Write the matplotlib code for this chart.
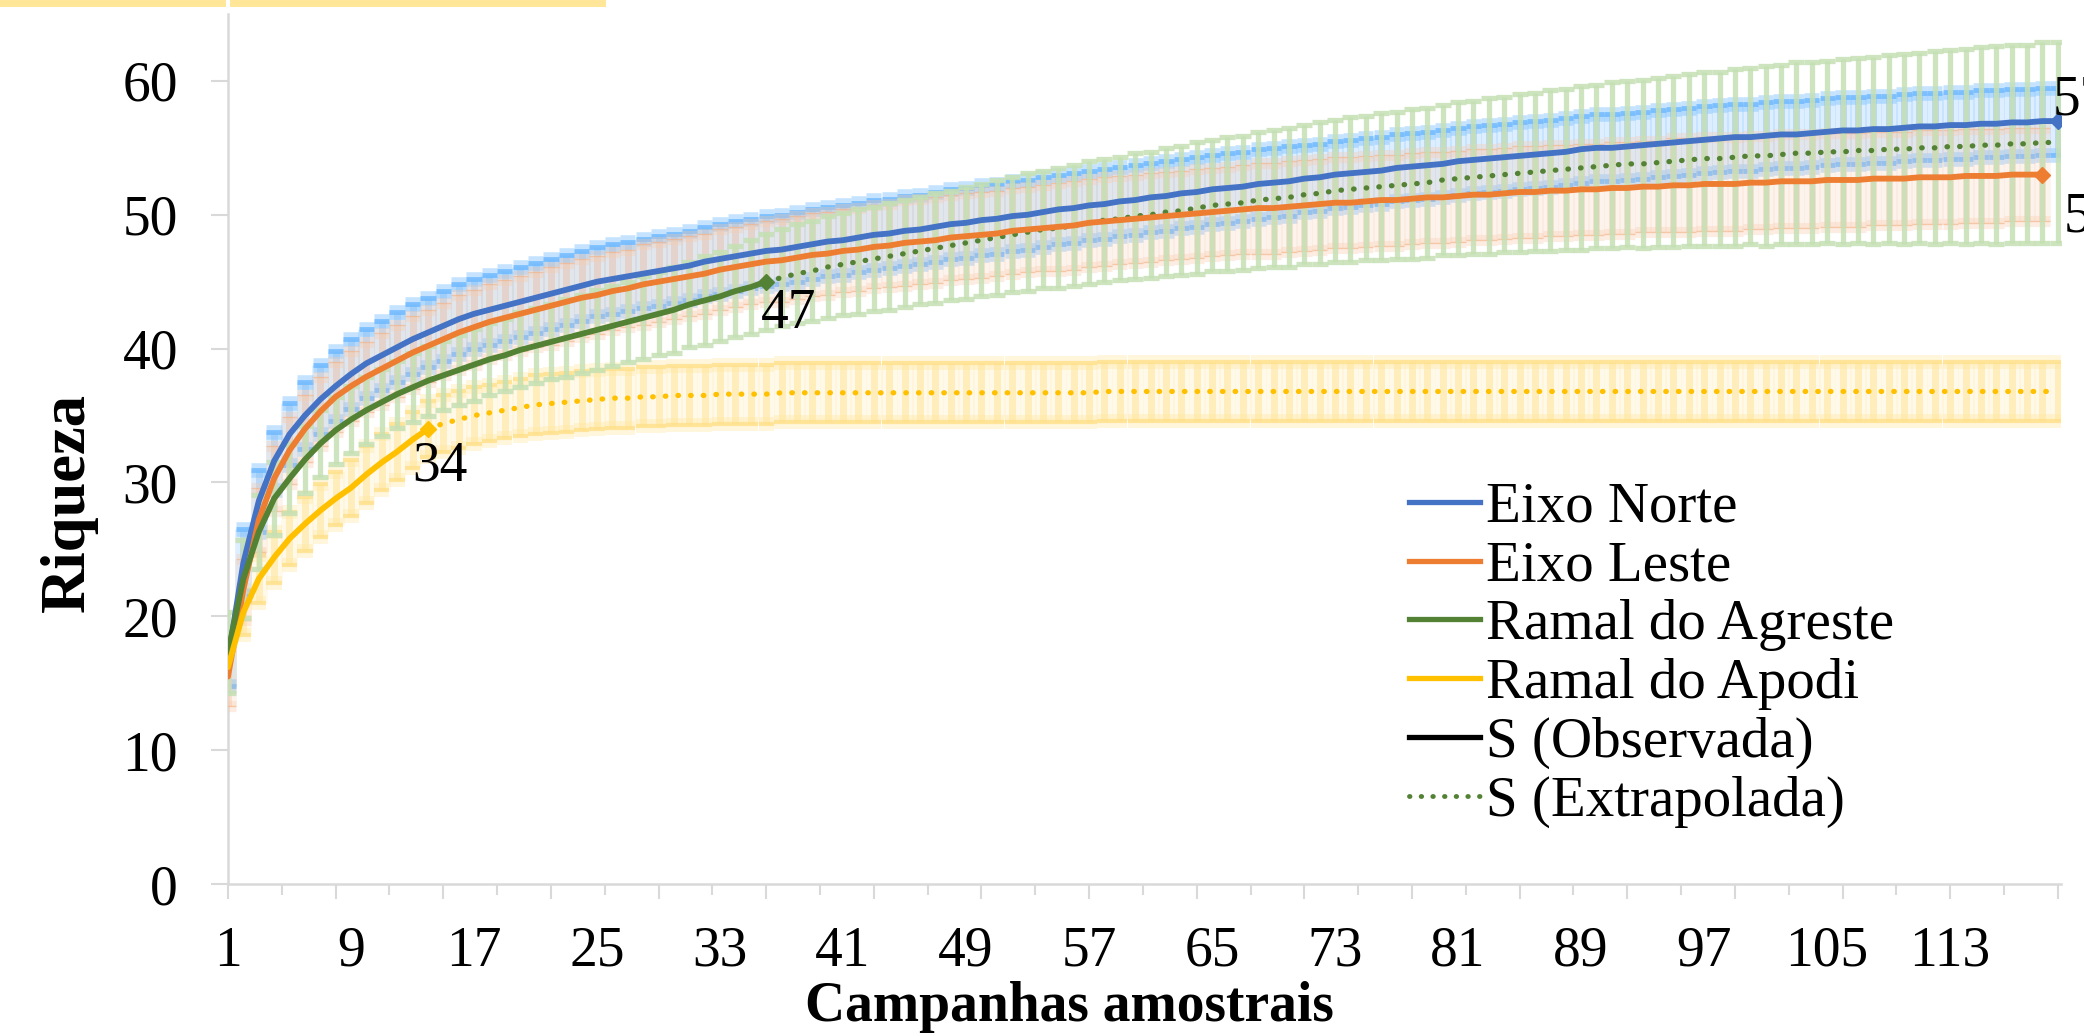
import matplotlib.pyplot as plt
import matplotlib.patheffects as pe
from matplotlib.lines import Line2D
from matplotlib.patches import Rectangle
import numpy as np

plt.rcParams['font.family'] = ['Liberation Serif', 'DejaVu Serif']

# x categories shown on the axis
x_tick_labels = [1, 9, 17, 25, 33, 41, 49, 57, 65, 73, 81, 89, 97, 105, 113]
y_ticks = [0, 10, 20, 30, 40, 50, 60]

# Eixo Norte, observed, campaigns 1..120
norte_obs = [16.8, 24.0, 28.6, 31.6, 33.6, 35.0, 36.2, 37.2, 38.1, 38.9,
             39.5, 40.1, 40.7, 41.2, 41.7, 42.2, 42.6, 42.9, 43.2, 43.5,
             43.8, 44.1, 44.4, 44.7, 45.0, 45.2, 45.4, 45.6, 45.8, 46.0,
             46.2, 46.5, 46.7, 46.9, 47.1, 47.3, 47.4, 47.6, 47.8, 48.0,
             48.1, 48.3, 48.5, 48.6, 48.8, 48.9, 49.1, 49.3, 49.4, 49.6,
             49.7, 49.9, 50.0, 50.2, 50.4, 50.5, 50.7, 50.8, 51.0, 51.1,
             51.3, 51.4, 51.6, 51.7, 51.9, 52.0, 52.1, 52.3, 52.4, 52.5,
             52.7, 52.8, 53.0, 53.1, 53.2, 53.3, 53.5, 53.6, 53.7, 53.8,
             54.0, 54.1, 54.2, 54.3, 54.4, 54.5, 54.6, 54.7, 54.9, 55.0,
             55.0, 55.1, 55.2, 55.3, 55.4, 55.5, 55.6, 55.7, 55.8, 55.8,
             55.9, 56.0, 56.0, 56.1, 56.2, 56.3, 56.3, 56.4, 56.4, 56.5,
             56.6, 56.6, 56.7, 56.7, 56.8, 56.8, 56.9, 56.9, 57.0, 57.0]
norte_err = [2.0, 2.5, 2.3, 2.2, 2.3, 2.5, 2.6, 2.6, 2.6, 2.6,
             2.6, 2.6, 2.6, 2.6, 2.6, 2.6, 2.6, 2.6, 2.6, 2.6,
             2.6, 2.6, 2.6, 2.6, 2.6, 2.6, 2.6, 2.6, 2.6, 2.6,
             2.6, 2.6, 2.6, 2.6, 2.6, 2.6, 2.6, 2.6, 2.6, 2.6,
             2.6, 2.6, 2.6, 2.6, 2.6, 2.6, 2.6, 2.6, 2.6, 2.6,
             2.6, 2.6, 2.6, 2.6, 2.6, 2.6, 2.6, 2.6, 2.6, 2.6,
             2.6, 2.6, 2.6, 2.6, 2.6, 2.6, 2.6, 2.6, 2.6, 2.6,
             2.5, 2.5, 2.5, 2.5, 2.5, 2.5, 2.5, 2.5, 2.5, 2.5,
             2.5, 2.5, 2.5, 2.5, 2.5, 2.5, 2.5, 2.5, 2.5, 2.5,
             2.5, 2.5, 2.5, 2.5, 2.5, 2.5, 2.5, 2.5, 2.5, 2.5,
             2.5, 2.5, 2.5, 2.5, 2.5, 2.5, 2.5, 2.5, 2.5, 2.5,
             2.5, 2.5, 2.5, 2.5, 2.5, 2.5, 2.5, 2.5, 2.5, 2.5]

# Eixo Leste, observed, campaigns 1..119
leste_obs = [15.5, 22.0, 27.2, 30.3, 32.4, 34.0, 35.3, 36.4, 37.2, 37.9,
             38.5, 39.1, 39.7, 40.2, 40.7, 41.2, 41.6, 42.0, 42.3, 42.6,
             42.9, 43.2, 43.5, 43.8, 44.0, 44.3, 44.5, 44.8, 45.0, 45.2,
             45.4, 45.6, 45.9, 46.1, 46.3, 46.5, 46.6, 46.8, 47.0, 47.1,
             47.3, 47.4, 47.6, 47.7, 47.9, 48.0, 48.1, 48.3, 48.4, 48.5,
             48.6, 48.8, 48.9, 49.0, 49.1, 49.2, 49.4, 49.5, 49.6, 49.7,
             49.8, 49.9, 50.0, 50.1, 50.2, 50.3, 50.4, 50.5, 50.5, 50.6,
             50.7, 50.8, 50.9, 50.9, 51.0, 51.1, 51.1, 51.2, 51.3, 51.3,
             51.4, 51.5, 51.5, 51.6, 51.7, 51.7, 51.8, 51.8, 51.9, 51.9,
             52.0, 52.0, 52.1, 52.1, 52.2, 52.2, 52.3, 52.3, 52.3, 52.4,
             52.4, 52.5, 52.5, 52.5, 52.6, 52.6, 52.6, 52.7, 52.7, 52.7,
             52.8, 52.8, 52.8, 52.9, 52.9, 52.9, 53.0, 53.0, 53.0]
leste_err = [2.2, 2.3, 2.4, 2.4, 2.5, 2.5, 2.6, 2.6, 2.6, 2.6,
             2.7, 2.7, 2.7, 2.7, 2.7, 2.8, 2.8, 2.8, 2.8, 2.8,
             2.8, 2.9, 2.9, 2.9, 2.9, 2.9, 2.9, 3.0, 3.0, 3.0,
             3.0, 3.0, 3.0, 3.0, 3.0, 3.0, 3.1, 3.1, 3.1, 3.1,
             3.1, 3.1, 3.1, 3.1, 3.2, 3.2, 3.2, 3.2, 3.2, 3.2,
             3.2, 3.2, 3.2, 3.2, 3.3, 3.3, 3.3, 3.3, 3.3, 3.3,
             3.3, 3.3, 3.3, 3.3, 3.3, 3.3, 3.3, 3.4, 3.4, 3.4,
             3.4, 3.4, 3.4, 3.4, 3.4, 3.4, 3.4, 3.4, 3.4, 3.4,
             3.4, 3.4, 3.4, 3.4, 3.4, 3.4, 3.4, 3.4, 3.4, 3.4,
             3.4, 3.4, 3.4, 3.4, 3.5, 3.5, 3.5, 3.5, 3.5, 3.5,
             3.5, 3.5, 3.5, 3.5, 3.5, 3.5, 3.5, 3.5, 3.5, 3.5,
             3.5, 3.5, 3.5, 3.5, 3.5, 3.5, 3.5, 3.5, 3.5]

# Ramal do Agreste: observed 1..36, extrapolated 36..120
agreste_obs = [17.3, 22.8, 26.3, 28.8, 30.3, 31.7, 32.9, 33.9, 34.7, 35.4,
               36.0, 36.6, 37.1, 37.6, 38.0, 38.4, 38.8, 39.2, 39.5, 39.9,
               40.2, 40.5, 40.8, 41.1, 41.4, 41.7, 42.0, 42.3, 42.6, 42.9,
               43.3, 43.6, 43.9, 44.3, 44.6, 45.0]
agreste_ext = [45.0, 45.3, 45.6, 45.8, 46.1, 46.3, 46.5, 46.7, 46.9, 47.1,
               47.3, 47.5, 47.7, 47.9, 48.1, 48.3, 48.5, 48.7, 48.9, 49.0,
               49.2, 49.4, 49.6, 49.7, 49.9, 50.0, 50.2, 50.3, 50.5, 50.7,
               50.8, 50.9, 51.1, 51.2, 51.3, 51.5, 51.6, 51.8, 51.9, 52.0,
               52.1, 52.2, 52.3, 52.4, 52.6, 52.7, 52.8, 52.9, 53.0, 53.1,
               53.2, 53.3, 53.4, 53.5, 53.6, 53.7, 53.8, 53.8, 53.9, 54.0,
               54.1, 54.2, 54.2, 54.3, 54.4, 54.4, 54.5, 54.6, 54.6, 54.7,
               54.7, 54.8, 54.8, 54.9, 54.9, 55.0, 55.0, 55.1, 55.1, 55.2,
               55.2, 55.3, 55.3, 55.4, 55.4]
agreste_err = [3.0, 2.9, 2.8, 2.7, 2.6, 2.5, 2.5, 2.5, 2.5, 2.5,
               2.5, 2.5, 2.6, 2.6, 2.6, 2.6, 2.7, 2.7, 2.7, 2.8,
               2.8, 2.8, 2.9, 2.9, 3.0, 3.0, 3.0, 3.1, 3.1, 3.2,
               3.2, 3.3, 3.3, 3.4, 3.5, 3.6,
               3.6, 3.7, 3.7, 3.8, 3.8, 3.9, 3.9, 4.0, 4.0, 4.0,
               4.1, 4.1, 4.2, 4.2, 4.3, 4.3, 4.4, 4.4, 4.5, 4.5,
               4.6, 4.6, 4.6, 4.7, 4.7, 4.8, 4.8, 4.9, 4.9, 5.0,
               5.0, 5.1, 5.1, 5.2, 5.2, 5.3, 5.3, 5.4, 5.4, 5.5,
               5.5, 5.6, 5.6, 5.6, 5.7, 5.7, 5.8, 5.8, 5.9, 5.9,
               6.0, 6.0, 6.1, 6.1, 6.2, 6.2, 6.3, 6.3, 6.4, 6.4,
               6.5, 6.5, 6.6, 6.6, 6.7, 6.7, 6.8, 6.8, 6.8, 6.9,
               6.9, 7.0, 7.0, 7.1, 7.1, 7.2, 7.2, 7.3, 7.3, 7.4,
               7.4, 7.4, 7.5, 7.5]

# Ramal do Apodi: observed 1..14, extrapolated 14..120
apodi_obs = [16.2, 20.3, 22.8, 24.4, 25.8, 26.9, 27.9, 28.8, 29.6, 30.6,
             31.5, 32.3, 33.2, 34.0]
apodi_ext = [34.0, 34.4, 34.7, 35.0, 35.2, 35.4, 35.6, 35.8, 35.9, 36.0,
             36.1, 36.2, 36.3, 36.3, 36.4, 36.4, 36.5, 36.5, 36.5, 36.6,
             36.6, 36.6, 36.6, 36.7, 36.7, 36.7, 36.7, 36.7, 36.7, 36.7,
             36.7, 36.7, 36.7, 36.7, 36.7, 36.7, 36.7, 36.7, 36.7, 36.7,
             36.7, 36.7, 36.7, 36.7, 36.8, 36.8, 36.8, 36.8, 36.8, 36.8,
             36.8, 36.8, 36.8, 36.8, 36.8, 36.8, 36.8, 36.8, 36.8, 36.8,
             36.8, 36.8, 36.8, 36.8, 36.8, 36.8, 36.8, 36.8, 36.8, 36.8,
             36.8, 36.8, 36.8, 36.8, 36.8, 36.8, 36.8, 36.8, 36.8, 36.8,
             36.8, 36.8, 36.8, 36.8, 36.8, 36.8, 36.8, 36.8, 36.8, 36.8,
             36.8, 36.8, 36.8, 36.8, 36.8, 36.8, 36.8, 36.8, 36.8, 36.8,
             36.8, 36.8, 36.8, 36.8, 36.8, 36.8, 36.8]
apodi_err = [1.5, 1.7, 1.8, 1.9, 2.0, 2.0, 2.0, 2.0, 2.1, 2.1,
             2.1, 2.1, 2.1, 2.1, 2.1, 2.1, 2.1, 2.1, 2.1, 2.1,
             2.2, 2.2, 2.2, 2.2, 2.2, 2.2, 2.2, 2.2, 2.2, 2.2,
             2.2, 2.2, 2.2, 2.2, 2.2, 2.2, 2.2, 2.2, 2.2, 2.2,
             2.2, 2.2, 2.2, 2.2, 2.2, 2.2, 2.2, 2.2, 2.2, 2.2,
             2.2, 2.2, 2.2, 2.2, 2.2, 2.2, 2.2, 2.2, 2.2, 2.2,
             2.2, 2.2, 2.2, 2.2, 2.2, 2.2, 2.2, 2.2, 2.2, 2.2,
             2.2, 2.2, 2.2, 2.2, 2.2, 2.2, 2.2, 2.2, 2.2, 2.2,
             2.2, 2.2, 2.2, 2.2, 2.2, 2.2, 2.2, 2.2, 2.2, 2.2,
             2.2, 2.2, 2.2, 2.2, 2.2, 2.2, 2.2, 2.2, 2.2, 2.2,
             2.2, 2.2, 2.2, 2.2, 2.2, 2.2, 2.2, 2.2, 2.2, 2.2,
             2.2, 2.2, 2.2, 2.2, 2.2, 2.2, 2.2, 2.2, 2.2, 2.2]

end_labels = ['57', '53', '47', '34']

blue = '#4472C4'
orange = '#ED7D31'
green = '#548235'
yellow = '#FFC000'
axis_grey = '#D9D9D9'
dots = (0, (0.1, 2.3))

fig = plt.figure(figsize=(20.84, 10.36), dpi=100)
ax = fig.add_axes([0.1094, 0.1467, 0.8795, 0.8398])

# strip of the page above the chart
fig.add_artist(Rectangle((0, 1 - 7 / 1036), 226 / 2084, 7 / 1036,
                         transform=fig.transFigure, color='#FFE699', lw=0))
fig.add_artist(Rectangle((230 / 2084, 1 - 7 / 1036), 376 / 2084, 7 / 1036,
                         transform=fig.transFigure, color='#FFE699', lw=0))


def bars(y, err, bar_col, cap_col, lw, cap_lw, glow, glow_alpha, alpha, z):
    x = np.arange(1, len(y) + 1)
    eb = ax.errorbar(x, y, yerr=err, fmt='none', ecolor=bar_col,
                     elinewidth=lw, capsize=5.5, capthick=cap_lw,
                     alpha=alpha, zorder=z)
    for cap in eb[1]:
        cap.set_color(cap_col)
        cap.set_markeredgecolor(cap_col)
        if glow:
            cap.set_path_effects([pe.Stroke(linewidth=cap_lw + 7, foreground=glow, alpha=glow_alpha),
                                  pe.Normal()])
    if glow:
        for coll in eb[2]:
            coll.set_path_effects([pe.Stroke(linewidth=lw + 7, foreground=glow, alpha=glow_alpha * 0.6),
                                   pe.Normal()])


agreste_all = np.concatenate([agreste_obs, agreste_ext[1:]])
apodi_all = np.concatenate([apodi_obs, apodi_ext[1:]])

bars(apodi_all, apodi_err, '#FFEBB0', '#FFE08A', 5, 3, '#FFE699', 0.35, 0.8, 1)
bars(norte_obs, norte_err, '#B4D3F2', '#6DB8FF', 5, 3.5, '#7FC2FF', 0.45, 0.8, 2)
bars(leste_obs, leste_err, '#F8D3BC', '#F4B183', 5, 1.0, '#F8CBAD', 0.35, 0.6, 3)
bars(agreste_all, agreste_err, '#C5E0B4', '#C5E0B4', 3.8, 3.8, None, 0, 0.85, 4)

x_norte = np.arange(1, len(norte_obs) + 1)
x_leste = np.arange(1, len(leste_obs) + 1)
x_ag = np.arange(1, len(agreste_obs) + 1)
x_ag_ext = np.arange(len(agreste_obs), len(agreste_obs) + len(agreste_ext))
x_ap = np.arange(1, len(apodi_obs) + 1)
x_ap_ext = np.arange(len(apodi_obs), len(apodi_obs) + len(apodi_ext))

ax.plot(x_ap_ext, apodi_ext, color=yellow, lw=3.8, linestyle=dots,
        dash_capstyle='round', zorder=6)
ax.plot(x_ag_ext, agreste_ext, color=green, lw=3.8, linestyle=dots,
        dash_capstyle='round', zorder=6)
for xs, ys, col in [(x_norte, norte_obs, blue), (x_leste, leste_obs, orange),
                    (x_ag, agreste_obs, green), (x_ap, apodi_obs, yellow)]:
    ax.plot(xs, ys, color=col, lw=4.2, marker='D', ms=8,
            markevery=[len(ys) - 1], solid_capstyle='round', zorder=7)

# data labels at the end of each observed curve
label_pos = [(x_norte, norte_obs, (-4, 15)), (x_leste, leste_obs, (15, -31)),
             (x_ag, agreste_obs, (-4, -23)), (x_ap, apodi_obs, (-11, -27))]
for text, (xs, ys, off) in zip(end_labels, label_pos):
    ax.annotate(text, xy=(xs[-1], ys[-1]), xytext=off, textcoords='offset points',
                ha='left', va='center', fontsize=40, annotation_clip=False, zorder=8)

ax.set_xlim(1, 120.2)
ax.set_ylim(0, 65)
ax.set_xticks(x_tick_labels)
ax.set_xticklabels([str(v) for v in x_tick_labels])
ax.set_yticks(y_ticks)
ax.tick_params(axis='x', which='both', length=0, pad=30, labelsize=40)
ax.tick_params(axis='y', length=12, width=1.5, color=axis_grey, pad=24, labelsize=40)
for side in ['top', 'right']:
    ax.spines[side].set_visible(False)
for side in ['left', 'bottom']:
    ax.spines[side].set_color(axis_grey)
    ax.spines[side].set_linewidth(1.8)

sec = ax.secondary_xaxis('bottom')
sec.set_xticks(np.arange(1, 121, 7))
sec.set_xticks(np.arange(4.5, 121, 7), minor=True)
sec.tick_params(which='major', length=11, width=1.5, color=axis_grey, labelbottom=False)
sec.tick_params(which='minor', length=8, width=1.5, color=axis_grey, labelbottom=False)
sec.spines['bottom'].set_visible(False)

fig.text(0.033, 0.5145, 'Riqueza', rotation=90, ha='center', va='center',
         fontsize=45, fontweight='bold')
fig.text(0.5134, 0.0145, 'Campanhas amostrais', ha='center', va='baseline',
         fontsize=40, fontweight='bold')

handles = [Line2D([], [], color=blue, lw=3.8),
           Line2D([], [], color=orange, lw=3.8),
           Line2D([], [], color=green, lw=3.8),
           Line2D([], [], color=yellow, lw=3.8),
           Line2D([], [], color='black', lw=3.8),
           Line2D([], [], color=green, lw=3.5, linestyle=dots, dash_capstyle='round')]
names = ['Eixo Norte', 'Eixo Leste', 'Ramal do Agreste', 'Ramal do Apodi',
         'S (Observada)', 'S (Extrapolada)']
fig.legend(handles, names, loc='upper left', bbox_to_anchor=(0.676, 0.535),
           frameon=False, fontsize=41, handlelength=1.25, handletextpad=0.1,
           labelspacing=0.12, borderpad=0, borderaxespad=0)

fig.savefig('out.png', dpi=100)
